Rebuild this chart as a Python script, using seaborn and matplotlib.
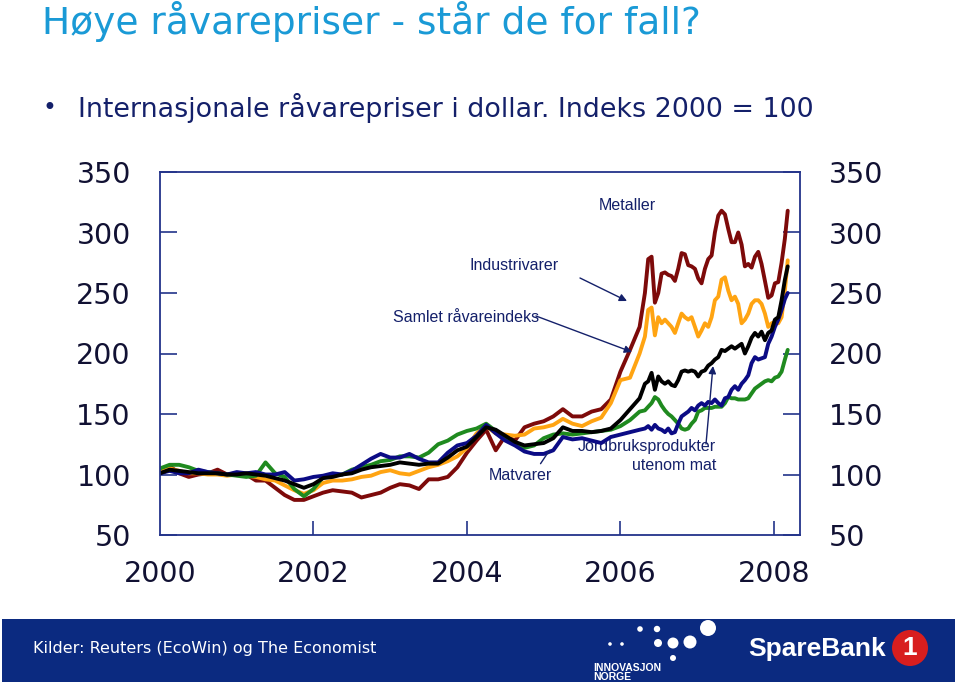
import numpy as np
import pandas as pd
import matplotlib
matplotlib.use("Agg")
import matplotlib.pyplot as plt
import seaborn as sns
from matplotlib.patches import Ellipse, Rectangle

# ---- data (Economist commodity price index, USD, 2000 = 100) ----
years_early = [2000 + i / 8 for i in range(51)]           # 2000.0 .. 2006.25
years_late = [2006.319, 2006.362, 2006.406, 2006.449, 2006.493, 2006.536, 2006.580, 2006.623,
              2006.666, 2006.710, 2006.753, 2006.797, 2006.840, 2006.884, 2006.927, 2006.971,
              2007.014, 2007.057, 2007.101, 2007.144, 2007.188, 2007.231, 2007.275, 2007.318,
              2007.362, 2007.405, 2007.448, 2007.492, 2007.535, 2007.579, 2007.622, 2007.666,
              2007.709, 2007.753, 2007.796, 2007.839, 2007.883, 2007.926, 2007.970, 2008.013,
              2008.057, 2008.100, 2008.143, 2008.180]
years = years_early + years_late

metaller = [104, 107, 101, 98, 100, 101, 104, 100, 101, 100, 95, 95, 89, 83, 79, 79, 82,
            85, 87, 86, 85, 81, 83, 85, 89, 92, 91, 88, 96, 96, 98, 106, 118, 128, 137,
            120, 132, 128, 139, 142, 144, 148, 154, 148, 148, 152, 154, 162, 185, 203, 222,
            250, 278, 280, 242, 250, 266, 267, 265, 264, 260, 270, 283, 282, 273, 272, 270,
            262, 258, 270, 278, 281, 300, 314, 318, 315, 303, 292, 292, 300, 290, 272, 274,
            271, 280, 284, 274, 260, 246, 248, 258, 259, 275, 295, 318]

industrivarer = [103, 105, 103, 101, 101, 100, 100, 99, 100, 99, 98, 96, 95, 91, 87, 84, 87,
                 93, 95, 95, 96, 98, 99, 102, 103.5, 101, 100, 103, 106, 108, 111, 115, 122, 134, 140,
                 134, 133, 132, 133, 138, 139, 141, 146, 142, 140, 144, 147, 159, 178, 180, 200,
                 214, 236, 238, 215, 230, 225, 228, 225, 222, 217, 225, 233, 230, 228, 230, 222,
                 214, 219, 225, 222, 230, 244, 247, 261, 263, 252, 244, 247, 241, 225, 228, 233,
                 241, 244, 244, 241, 233, 222, 225, 226, 225, 230, 252, 277]

samlet = [101, 104, 103, 102, 101, 101, 101, 100, 100, 101, 100, 99, 97, 95, 92, 89, 92,
          97, 98, 100, 101, 104, 106, 107, 108, 110, 109, 108, 109, 109, 114, 120, 123, 131, 139,
          137, 132, 127, 124, 125, 126, 130, 139, 136, 136, 135, 136, 138, 145, 154, 163,
          175, 177, 184, 170, 181, 177, 175, 177, 174, 173, 178, 185, 186, 185, 186, 185,
          181, 185, 186, 190, 192, 195, 197, 203, 202, 204, 206, 204, 206, 208, 200, 206,
          213, 217, 214, 218, 211, 217, 219, 228, 230, 244, 261, 272]

jordbruk = [101, 103, 101, 101, 104, 102, 101, 100, 102, 101, 102, 100, 100, 102, 95, 96, 98,
            99, 101, 100, 103, 108, 113, 117, 114, 114, 117, 113, 110, 110, 118, 124, 126, 132, 141,
            134, 128, 124, 119, 117, 117, 120, 131, 129, 130, 128, 126, 131, 133, 135, 137,
            138, 140, 137, 141, 138, 137, 135, 138, 134, 135, 142, 148, 150, 152, 155, 153,
            157, 159, 157, 160, 159, 162, 159, 157, 163, 164, 170, 173, 170, 175, 178, 182,
            192, 197, 195, 196, 197, 208, 214, 222, 228, 236, 245, 250]

matvarer = [105, 108, 108, 106, 103, 102, 101, 100, 99, 98, 99, 110, 101, 98, 88, 82, 88,
            98, 99, 100, 104, 106, 108, 111, 112, 115, 115, 114, 118, 125, 128, 133, 136, 138, 142,
            136, 130, 125, 122, 124, 130, 133, 134, 133, 134, 135, 136, 137, 140, 145, 152,
            153, 156, 159, 164, 162, 157, 153, 150, 148, 145, 142, 138, 137, 138, 142, 145,
            152, 153, 155, 155, 155, 156, 156, 156, 159, 164, 163, 163, 162, 162, 162, 163,
            167, 171, 173, 175, 177, 178, 177, 180, 181, 185, 195, 203]

series_names = ["Metaller", "Industrivarer", "Matvarer",
                "Jordbruksprodukter utenom mat", "Samlet råvareindeks"]
series_values = [metaller, industrivarer, matvarer, jordbruk, samlet]
palette = {"Metaller": "#7d0a0a", "Industrivarer": "#ffa412", "Matvarer": "#1f8a1f",
           "Jordbruksprodukter utenom mat": "#0b0b85", "Samlet råvareindeks": "#000000"}

y_ticks = [50, 100, 150, 200, 250, 300, 350]
x_ticks = [2000, 2002, 2004, 2006, 2008]

df = pd.concat([pd.DataFrame({"year": years, "value": v, "serie": n})
                for n, v in zip(series_names, series_values)], ignore_index=True)

# ---- style ----
sns.set_theme(style="white")
plt.rcParams['font.family'] = ['DejaVu Sans']
NAVY = "#14206a"
W, H = 959, 684

fig = plt.figure(figsize=(W / 100, H / 100), dpi=100)
ax = fig.add_axes([160 / W, 1 - 535 / H, 640 / W, 363 / H])

sns.lineplot(data=df, x="year", y="value", hue="serie", hue_order=series_names,
             palette=palette, linewidth=2.8, estimator=None, sort=False,
             legend=False, ax=ax)

ax.set_xlim(2000, 2008.34)
ax.set_ylim(50, 350)
ax.set_xlabel("")
ax.set_ylabel("")
ax.set_yticks(y_ticks)
ax.set_yticklabels([str(t) for t in y_ticks])
ax.set_xticks(x_ticks)
ax.set_xticklabels([str(t) for t in x_ticks])
ax.tick_params(axis='y', direction='in', length=12, width=1.2, color="#23338a",
               labelsize=20.5, labelcolor="#111133", pad=21,
               left=True, right=True, labelleft=True, labelright=True)
ax.tick_params(axis='x', direction='in', length=10, width=1.2, color="#23338a",
               labelsize=20.5, labelcolor="#111133", pad=18, bottom=True)
ax.xaxis.get_major_ticks()[0].tick1line.set_visible(False)
for s in ax.spines.values():
    s.set_visible(True)
    s.set_color("#23338a")
    s.set_linewidth(1.3)
ax.grid(False)

# ---- annotations ----
NARROW = ['Liberation Sans Narrow', 'Liberation Sans', 'DejaVu Sans']
AFS = 11.5
def fp(x, y):
    return (x, H - y)

aprops = dict(arrowstyle='-|>', color=NAVY, lw=1.0, mutation_scale=11, shrinkA=0, shrinkB=0)
ax.annotate("Metaller", xy=fp(627, 205), xycoords='figure pixels', ha='center', va='center',
            fontsize=AFS, color=NAVY, family=NARROW)
ax.annotate("Industrivarer", xy=fp(514, 266), xycoords='figure pixels', ha='center', va='center',
            fontsize=AFS, color=NAVY, family=NARROW)
ax.annotate("", xy=fp(627, 301), xytext=fp(580, 278), xycoords='figure pixels',
            textcoords='figure pixels', arrowprops=aprops)
ax.annotate("Samlet råvareindeks", xy=fp(466, 318), xycoords='figure pixels', ha='center',
            va='center', fontsize=AFS, color=NAVY, family=NARROW)
ax.annotate("", xy=fp(632, 352), xytext=fp(536, 316), xycoords='figure pixels',
            textcoords='figure pixels', arrowprops=aprops)
ax.annotate("Matvarer", xy=fp(520, 476), xycoords='figure pixels', ha='center', va='center',
            fontsize=AFS, color=NAVY, family=NARROW)
ax.annotate("", xy=fp(551, 448), xytext=fp(539, 466), xycoords='figure pixels',
            textcoords='figure pixels',
            arrowprops=dict(arrowstyle='-', color=NAVY, lw=1.0))
ax.annotate("Jordbruksprodukter\nutenom mat", xy=fp(716, 456), xycoords='figure pixels',
            ha='right', va='center', multialignment='right', fontsize=AFS, color=NAVY,
            family=NARROW, linespacing=1.35, zorder=1)
ax.annotate("", xy=fp(713, 366), xytext=fp(706, 444), xycoords='figure pixels',
            textcoords='figure pixels', arrowprops=aprops)

# ---- titles ----
fig.text(42 / W, 1 - 21 / H, "Høye råvarepriser - står de for fall?", fontsize=27,
         color="#1a9ad6", ha='left', va='center')
fig.text(42 / W, 1 - 108 / H, "•", fontsize=17, color=NAVY, ha='left', va='center')
fig.text(78 / W, 1 - 108 / H, "Internasjonale råvarepriser i dollar. Indeks 2000 = 100",
         fontsize=19.4, color=NAVY, ha='left', va='center')

# ---- footer band ----
fig.add_artist(Rectangle((2 / W, 2 / H), 953 / W, 63 / H, transform=fig.transFigure,
                         facecolor="#0b2a80", edgecolor='none'))
fig.text(33 / W, 1 - 649 / H, "Kilder: Reuters (EcoWin) og The Economist", fontsize=11.5,
         color="white", ha='left', va='center')

def dot(x, y, r, color="white"):
    fig.add_artist(Ellipse((x / W, 1 - y / H), 2 * r / W, 2 * r / H,
                           transform=fig.transFigure, facecolor=color, edgecolor='none'))

for (x, y, r) in [(610, 644, 1.8), (622, 644, 1.8), (640, 629, 2.8), (657, 629, 3.2),
                  (658, 643, 4.0), (673, 643, 5.5), (690, 642, 6.5), (708, 628, 8.0),
                  (673, 658, 3.0)]:
    dot(x, y, r)
fig.text(593 / W, 1 - 668 / H, "INNOVASJON", fontsize=7.5, color="white", weight='bold',
         ha='left', va='center', family=['Liberation Sans'])
fig.text(593 / W, 1 - 677 / H, "NORGE", fontsize=7.5, color="white", weight='bold',
         ha='left', va='center', family=['Liberation Sans'])
fig.text(748 / W, 1 - 649 / H, "SpareBank", fontsize=19, color="white", weight='bold',
         ha='left', va='center', family=['Liberation Sans'])
dot(910, 648, 18, "#d81e1e")
fig.text(910 / W, 1 - 648 / H, "1", fontsize=19, color="white", weight='bold',
         ha='center', va='center', family=['Liberation Sans'])

fig.savefig("out.png", dpi=100)
